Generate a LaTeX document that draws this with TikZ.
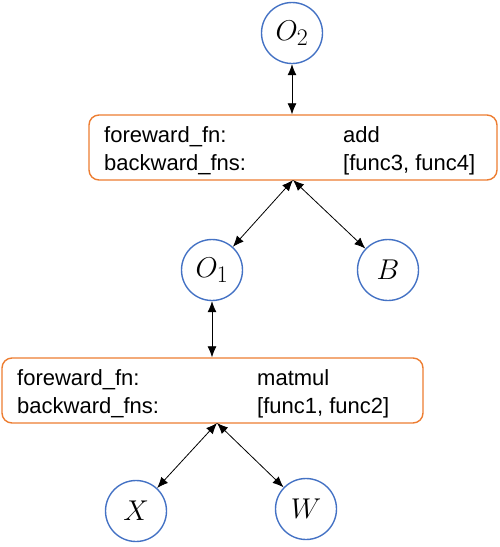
\documentclass[tikz,border=0pt]{standalone}
\usepackage{graphicx}
\usepackage{fontspec}
\setmainfont{Liberation Sans}
\usetikzlibrary{arrows.meta}
\definecolor{cblue}{HTML}{4472C4}
\definecolor{corange}{HTML}{ED7D31}
\newcommand{\bigmath}[1]{\scalebox{1.15}{$#1$}}
\begin{document}
\begin{tikzpicture}[x=1pt,y=-1pt,
  var/.style={circle,draw=cblue,line width=1.4pt,minimum size=61pt,inner sep=0pt,font=\fontsize{24.88}{30}\selectfont},
  fnbox/.style={rectangle,draw=corange,line width=1.4pt,rounded corners=10pt,minimum height=65pt,inner sep=0pt},
  lbl/.style={anchor=base west,inner sep=0pt,font=\fontsize{22}{26}\selectfont},
  arr/.style={{Latex[length=11pt,width=9pt]}-{Latex[length=11pt,width=9pt]},line width=0.8pt}]
\useasboundingbox (0,0) rectangle (499,547);
\node[var] (O2) at (292,33) {\bigmath{O_{\scriptstyle 2}}};
\node[fnbox,minimum width=408pt] (top) at (293,147.5) {};
\node[lbl] (t1) at (104,142) {foreward\_fn:};
\node[lbl] (t2) at (343,142) {add};
\node[lbl] (t3) at (104,170) {backward\_fns:};
\node[lbl] (t4) at (343,170) {[func3, func4]};
\node[var] (O1) at (212,270) {\bigmath{O_{\scriptstyle 1}}};
\node[var] (B) at (388,270) {\bigmath{B}};
\node[fnbox,minimum width=421pt] (bot) at (212.5,390.5) {};
\node[lbl] (b1) at (17,385) {foreward\_fn:};
\node[lbl] (b2) at (257,385) {matmul};
\node[lbl] (b3) at (17,413) {backward\_fns:};
\node[lbl] (b4) at (257,413) {[func1, func2]};
\node[var] (X) at (136,511) {\bigmath{X}};
\node[var] (W) at (306,509) {\bigmath{W}};
\coordinate (ta) at (293,180);
\coordinate (ba) at (217,423);
\draw[arr] (O2) -- (top.north -| O2);
\draw[arr] (ta) -- (O1);
\draw[arr] (ta) -- (B);
\draw[arr] (O1) -- (bot.north -| O1);
\draw[arr] (ba) -- (X);
\draw[arr] (ba) -- (W);
\end{tikzpicture}
\end{document}
